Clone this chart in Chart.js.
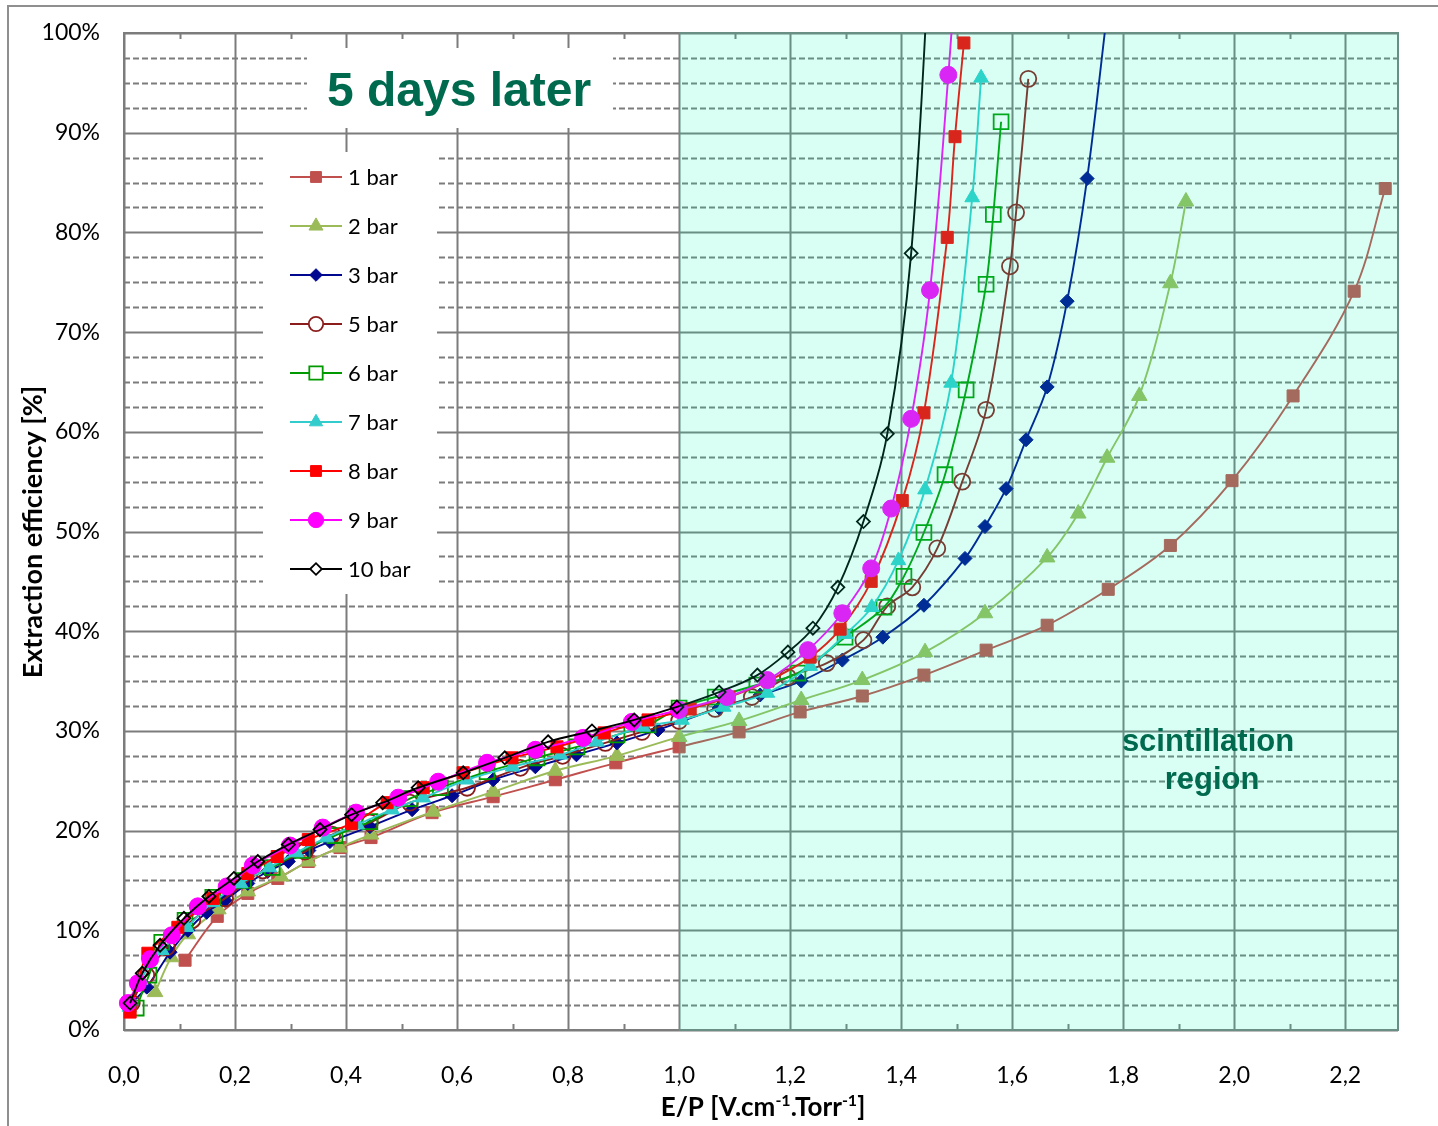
<!DOCTYPE html>
<html>
<head>
<meta charset="utf-8">
<script src="https://cdn.jsdelivr.net/npm/chart.js@4.4.1/dist/chart.umd.min.js"></script>
<style>
  html, body { margin: 0; padding: 0; background: #fff; }
  #wrap { position: relative; width: 1438px; height: 1126px; }
</style>
</head>
<body>
<div id="wrap"><canvas id="grafico" width="1438" height="1126"></canvas></div>
<script>
'use strict';

// ── Data (E/P in V/cm/Torr, efficiency in %) ─────────────────────
const seriesLabels = ['1 bar', '2 bar', '3 bar', '5 bar', '6 bar', '7 bar', '8 bar', '9 bar', '10 bar'];

const x1bar = [0.11, 0.168, 0.223, 0.277, 0.332, 0.389, 0.445, 0.555, 0.665, 0.777, 0.886, 1.0, 1.108, 1.218, 1.33, 1.441, 1.553, 1.663, 1.773, 1.885, 1.996, 2.106, 2.216, 2.272];
const y1bar = [7.0, 11.4, 13.7, 15.2, 16.9, 18.3, 19.3, 21.8, 23.4, 25.1, 26.8, 28.4, 29.9, 31.9, 33.5, 35.6, 38.1, 40.6, 44.2, 48.6, 55.1, 63.6, 74.1, 84.4];

const x2bar = [0.056, 0.085, 0.115, 0.17, 0.223, 0.283, 0.332, 0.388, 0.445, 0.557, 0.665, 0.777, 0.888, 1.0, 1.108, 1.22, 1.33, 1.443, 1.551, 1.663, 1.719, 1.771, 1.829, 1.885, 1.913];
const y2bar = [3.8, 7.3, 9.6, 12.1, 13.9, 15.4, 16.9, 18.3, 19.6, 21.9, 23.9, 26.0, 27.5, 29.4, 31.0, 33.1, 35.1, 37.9, 41.8, 47.4, 51.8, 57.4, 63.6, 74.9, 83.1];

const x3bar = [0.01, 0.041, 0.083, 0.115, 0.149, 0.182, 0.223, 0.259, 0.296, 0.333, 0.371, 0.443, 0.519, 0.591, 0.665, 0.741, 0.815, 0.888, 0.962, 1.072, 1.146, 1.22, 1.294, 1.367, 1.441, 1.515, 1.551, 1.589, 1.625, 1.663, 1.699, 1.735, 1.773];
const y3bar = [2.5, 4.3, 7.8, 10.0, 11.8, 13.0, 14.7, 15.9, 16.9, 18.0, 18.9, 20.4, 22.1, 23.5, 25.1, 26.4, 27.6, 28.8, 30.1, 32.3, 33.6, 35.0, 37.1, 39.4, 42.6, 47.3, 50.5, 54.3, 59.2, 64.5, 73.1, 85.4, 103.0];

const x5bar = [0.014, 0.04, 0.077, 0.123, 0.182, 0.25, 0.326, 0.375, 0.443, 0.515, 0.618, 0.714, 0.79, 0.867, 0.933, 1.0, 1.065, 1.131, 1.196, 1.266, 1.332, 1.375, 1.42, 1.465, 1.51, 1.553, 1.596, 1.607, 1.629];
const y5bar = [2.7, 5.5, 8.3, 11.0, 13.2, 16.0, 17.9, 19.6, 20.8, 22.8, 24.3, 26.3, 27.5, 28.8, 29.9, 31.0, 32.2, 33.4, 35.4, 36.8, 39.1, 42.5, 44.4, 48.3, 55.0, 62.2, 76.6, 82.0, 95.4];

const x6bar = [0.022, 0.045, 0.068, 0.11, 0.16, 0.215, 0.267, 0.321, 0.38, 0.443, 0.515, 0.57, 0.654, 0.744, 0.816, 0.888, 0.944, 1.0, 1.065, 1.14, 1.214, 1.299, 1.369, 1.405, 1.441, 1.479, 1.517, 1.553, 1.566, 1.58];
const y6bar = [2.2, 5.5, 8.8, 11.0, 13.3, 15.0, 16.3, 18.0, 19.5, 20.9, 23.2, 24.3, 25.9, 27.3, 28.4, 29.6, 30.6, 32.3, 33.4, 34.6, 35.8, 39.4, 42.4, 45.5, 49.9, 55.7, 64.2, 74.8, 81.8, 91.1];

const x7bar = [0.01, 0.03, 0.068, 0.113, 0.16, 0.21, 0.262, 0.31, 0.365, 0.42, 0.483, 0.539, 0.618, 0.7, 0.786, 0.852, 0.935, 1.005, 1.08, 1.159, 1.236, 1.30, 1.347, 1.395, 1.443, 1.49, 1.528, 1.544];
const y7bar = [2.3, 5.0, 8.0, 10.3, 12.8, 14.7, 16.3, 17.8, 19.3, 20.6, 22.1, 23.3, 25.1, 26.4, 27.6, 28.9, 30.4, 31.1, 32.4, 33.8, 36.5, 39.7, 42.4, 47.1, 54.2, 64.9, 83.5, 95.5];

const x8bar = [0.011, 0.025, 0.043, 0.097, 0.16, 0.223, 0.276, 0.332, 0.41, 0.474, 0.539, 0.611, 0.699, 0.78, 0.865, 0.944, 1.02, 1.09, 1.16, 1.236, 1.29, 1.346, 1.402, 1.441, 1.483, 1.497, 1.513];
const y8bar = [1.8, 4.6, 7.7, 10.3, 13.2, 15.7, 17.4, 19.1, 20.7, 22.8, 24.3, 25.8, 27.3, 28.4, 29.8, 31.1, 32.2, 33.4, 35.0, 37.4, 40.2, 45.0, 53.1, 61.9, 79.5, 89.6, 99.0];

const x9bar = [0.007, 0.025, 0.047, 0.086, 0.133, 0.185, 0.232, 0.299, 0.358, 0.418, 0.494, 0.566, 0.654, 0.741, 0.827, 0.915, 1.0, 1.086, 1.159, 1.232, 1.294, 1.346, 1.382, 1.418, 1.452, 1.485, 1.505];
const y9bar = [2.7, 4.7, 7.1, 9.5, 12.4, 14.4, 16.5, 18.5, 20.3, 21.8, 23.3, 24.9, 26.8, 28.1, 29.3, 30.9, 32.1, 33.4, 35.1, 38.1, 41.8, 46.3, 52.3, 61.3, 74.2, 95.8, 112.0];

const x10bar = [0.011, 0.033, 0.065, 0.108, 0.153, 0.198, 0.241, 0.296, 0.353, 0.41, 0.466, 0.53, 0.611, 0.686, 0.764, 0.843, 0.919, 0.996, 1.072, 1.141, 1.196, 1.241, 1.286, 1.332, 1.375, 1.418, 1.455];
const y10bar = [2.7, 5.7, 8.5, 11.2, 13.4, 15.2, 16.9, 18.6, 20.1, 21.6, 22.8, 24.3, 25.8, 27.3, 28.9, 30.0, 31.1, 32.4, 33.9, 35.6, 37.9, 40.3, 44.4, 51.0, 59.8, 77.9, 112.0];

const xValues = [x1bar, x2bar, x3bar, x5bar, x6bar, x7bar, x8bar, x9bar, x10bar];
const yValues = [y1bar, y2bar, y3bar, y5bar, y6bar, y7bar, y8bar, y9bar, y10bar];

// Axis ticks
const xTickValues = [0, 0.2, 0.4, 0.6, 0.8, 1.0, 1.2, 1.4, 1.6, 1.8, 2.0, 2.2];
const xTickLabels = ['0,0', '0,2', '0,4', '0,6', '0,8', '1,0', '1,2', '1,4', '1,6', '1,8', '2,0', '2,2'];
const yTickLabels = ['0%', '10%', '20%', '30%', '40%', '50%', '60%', '70%', '80%', '90%', '100%'];
const X_MAX = 2.295;
const SCINT_START = 1.0;

// ── Styles ─────────────────────────────────────────────────────
const colori   = ['#C0504D', '#9BBB59', '#00088F', '#8B1C1C', '#009A00', '#33CCCC', '#FF0000', '#FF00FF', '#000000'];
const pieni    = [true, true, true, false, false, true, true, true, false];
const stili    = ['rect', 'triangle', 'rectRot', 'circle', 'rect', 'triangle', 'rect', 'circle', 'rectRot'];
const raggi    = [8.5, 9, 7, 8, 10.5, 8.5, 8.5, 8.5, 6.5];

const VERDE = '#006a4e';
const GRIGIO = '#7c7c7c';

Chart.defaults.font.family = 'Lato, sans-serif';
Chart.defaults.color = '#000';

const drawPoint = (Chart.helpers && Chart.helpers.drawPoint) ? Chart.helpers.drawPoint : function (ctx, o, x, y) {
  ctx.beginPath(); ctx.arc(x, y, o.radius, 0, Math.PI * 2); ctx.fill(); ctx.stroke();
};

function serie(i) {
  const fill = pieni[i] ? colori[i] : 'rgba(0,0,0,0)';
  return {
    label: seriesLabels[i],
    data: xValues[i].map((v, k) => ({ x: v, y: yValues[i][k] })),
    borderColor: colori[i],
    backgroundColor: fill,
    pointBackgroundColor: fill,
    pointBorderColor: colori[i],
    pointStyle: stili[i],
    pointRadius: raggi[i],
    pointHoverRadius: raggi[i],
    pointBorderWidth: pieni[i] ? 1 : 1.8,
    borderWidth: 1.9,
    tension: 0.35,
    order: 9 - i,
    clip: { left: 14, right: 14, top: 0, bottom: 14 }
  };
}

// ── Custom drawing: frame, grid, boxes, shading, texts, legend ──
const decorPlugin = {
  id: 'decor',
  beforeDraw(chart) {
    const ctx = chart.ctx;
    ctx.save();
    ctx.fillStyle = '#fff';
    ctx.fillRect(0, 0, chart.width, chart.height);
    ctx.strokeStyle = '#8f8f8f';
    ctx.lineWidth = 2;
    ctx.beginPath();
    ctx.moveTo(8, chart.height);
    ctx.lineTo(8, 6);
    ctx.lineTo(chart.width, 6);
    ctx.stroke();
    ctx.restore();
  },
  beforeDatasetsDraw(chart) {
    const { ctx, chartArea: a, scales: { x, y } } = chart;
    ctx.save();
    // horizontal grid: solid every 10 %, dashed every 2.5 %
    for (let k = 0; k <= 40; k++) {
      const v = k * 2.5;
      const py = Math.round(y.getPixelForValue(v)) + 0.5;
      ctx.beginPath();
      ctx.strokeStyle = GRIGIO;
      if (k % 4 === 0) { ctx.setLineDash([]); ctx.lineWidth = 2; }
      else { ctx.setLineDash([6, 3]); ctx.lineWidth = 2; }
      ctx.moveTo(a.left, py);
      ctx.lineTo(a.right, py);
      ctx.stroke();
    }
    ctx.setLineDash([]);
    // vertical grid every 0.2, minor ticks every 0.1
    ctx.lineWidth = 2;
    ctx.strokeStyle = GRIGIO;
    for (let k = 0; k <= 22; k++) {
      const px = Math.round(x.getPixelForValue(k / 10)) + 0.5;
      ctx.beginPath();
      if (k % 2 === 0) {
        ctx.moveTo(px, a.top); ctx.lineTo(px, a.bottom);
      } else {
        ctx.moveTo(px, a.top); ctx.lineTo(px, a.top + 6);
        ctx.moveTo(px, a.bottom); ctx.lineTo(px, a.bottom - 6);
      }
      ctx.stroke();
    }
    // plot border
    ctx.lineWidth = 2;
    ctx.strokeRect(a.left, a.top, a.right - a.left, a.bottom - a.top);
    // white boxes of title and legend
    ctx.fillStyle = '#fff';
    ctx.fillRect(307, 48, 306, 80);
    ctx.fillRect(263, 152, 174, 442);
    ctx.restore();
  },
  afterDatasetsDraw(chart) {
    const { ctx, chartArea: a, scales: { x } } = chart;
    ctx.save();
    // scintillation region shading
    const x0 = x.getPixelForValue(SCINT_START);
    ctx.fillStyle = 'rgba(0,255,190,0.15)';
    ctx.fillRect(x0, a.top - 1, a.right - x0 + 1, a.bottom - a.top + 2);

    // title
    ctx.fillStyle = VERDE;
    ctx.textAlign = 'center';
    ctx.textBaseline = 'alphabetic';
    ctx.font = 'bold 48px "Liberation Sans", Arial, sans-serif';
    ctx.fillText('5 days later', 459, 106);

    ctx.font = 'bold 31px "Liberation Sans", Arial, sans-serif';
    ctx.fillText('scintillation', 1208, 751);
    ctx.fillText('region', 1212, 789);

    // legend
    ctx.textAlign = 'left';
    ctx.textBaseline = 'middle';
    ctx.font = '22px Lato, sans-serif';
    seriesLabels.forEach((lab, i) => {
      const cy = 177 + 49 * i;
      ctx.strokeStyle = colori[i];
      ctx.lineWidth = 2;
      ctx.beginPath(); ctx.moveTo(290, cy); ctx.lineTo(342, cy); ctx.stroke();
      ctx.fillStyle = pieni[i] ? colori[i] : '#fff';
      ctx.lineWidth = pieni[i] ? 1 : 1.8;
      drawPoint(ctx, { pointStyle: stili[i], radius: raggi[i] * 0.9, borderWidth: ctx.lineWidth, rotation: 0 }, 316, cy);
      ctx.fillStyle = '#000';
      ctx.fillText(lab, 348, cy + 1);
    });

    // axis titles
    ctx.fillStyle = '#000';
    ctx.font = 'bold 27px Lato, sans-serif';
    ctx.save();
    ctx.translate(33, 532);
    ctx.rotate(-Math.PI / 2);
    ctx.textAlign = 'center';
    ctx.textBaseline = 'middle';
    ctx.fillText('Extraction efficiency [%]', 0, 0);
    ctx.restore();

    const parti = [['E/P [V.cm', false], ['-1', true], ['.Torr', false], ['-1', true], [']', false]];
    const fNorm = 'bold 26px Lato, sans-serif';
    const fSup = 'bold 16px Lato, sans-serif';
    let tot = 0;
    parti.forEach(([t, sup]) => { ctx.font = sup ? fSup : fNorm; tot += ctx.measureText(t).width; });
    let cx = 763 - tot / 2;
    ctx.textAlign = 'left';
    ctx.textBaseline = 'alphabetic';
    parti.forEach(([t, sup]) => {
      ctx.font = sup ? fSup : fNorm;
      ctx.fillText(t, cx, sup ? 1106 : 1116);
      cx += ctx.measureText(t).width;
    });
    ctx.restore();
  }
};

const ctx = document.getElementById('grafico').getContext('2d');
new Chart(ctx, {
  type: 'line',
  data: { datasets: seriesLabels.map((_, i) => serie(i)) },
  options: {
    responsive: false,
    devicePixelRatio: 1,
    animation: false,
    layout: { padding: { left: 0, top: 33, right: 40, bottom: 0 } },
    plugins: { legend: { display: false }, tooltip: { enabled: false } },
    scales: {
      x: {
        type: 'linear',
        min: 0,
        max: X_MAX,
        afterBuildTicks: s => { s.ticks = xTickValues.map(v => ({ value: v })); },
        afterFit: s => { s.height = 96; s.paddingLeft = 0; s.paddingRight = 0; },
        grid: { display: false, drawTicks: false },
        border: { display: false },
        ticks: {
          autoSkip: false, maxRotation: 0, padding: 32,
          font: { size: 23 }, color: '#000',
          callback: (v, i) => xTickLabels[i]
        }
      },
      y: {
        min: 0,
        max: 100,
        afterFit: s => { s.width = 124; s.paddingTop = 0; s.paddingBottom = 0; },
        grid: { display: false, drawTicks: false },
        border: { display: false },
        ticks: {
          stepSize: 10, padding: 24,
          font: { size: 23 }, color: '#000',
          callback: (v, i) => yTickLabels[i]
        }
      }
    }
  },
  plugins: [decorPlugin]
});
</script>
</body>
</html>
